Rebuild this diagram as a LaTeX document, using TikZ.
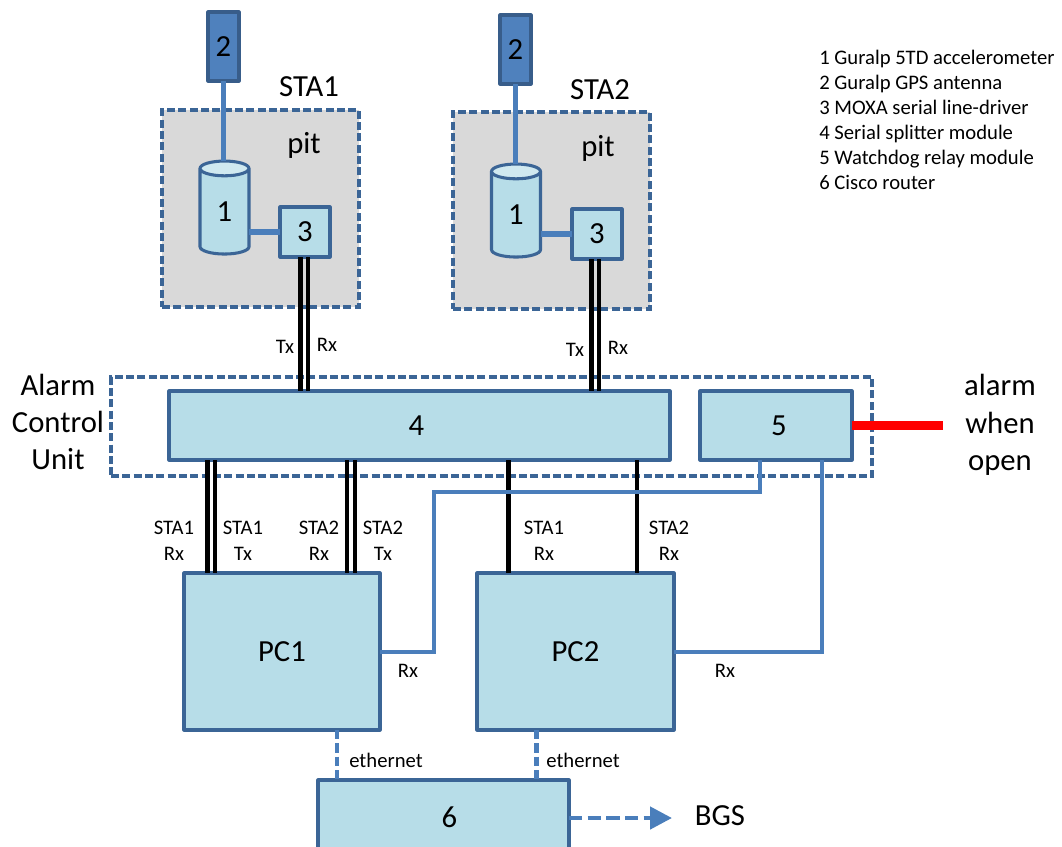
\documentclass[tikz,border=0pt]{standalone}
\usepackage{fontspec}
\setmainfont{Carlito}
\usetikzlibrary{shapes.geometric,arrows.meta}
\definecolor{boxfill}{HTML}{B7DDE8}
\definecolor{boxedge}{HTML}{3B6596}
\definecolor{wire}{HTML}{4A7EBB}
\definecolor{antfill}{HTML}{4F81BD}
\definecolor{antedge}{HTML}{385D8A}
\definecolor{pitfill}{HTML}{D9D9D9}
\tikzset{
  x=0.75pt,y=-0.75pt,
  unit/.style={draw=boxedge,fill=boxfill,line width=2.3pt,inner sep=0pt,outer sep=0pt,font=\fontsize{23}{25}\selectfont,line join=round},
  antenna/.style={draw=antedge,fill=antfill,line width=2.3pt,inner sep=0pt,outer sep=0pt,font=\fontsize{23}{25}\selectfont,minimum width=23.25pt,minimum height=51.75pt,line join=round},
  can/.style={cylinder,shape border rotate=90,aspect=0.95,cylinder uses custom fill,cylinder body fill=boxfill,cylinder end fill=boxfill!65!white,draw=boxedge,line width=2.3pt,inner sep=0pt,outer sep=0pt,font=\fontsize{23}{25}\selectfont,minimum width=36.75pt,minimum height=69.75pt},
  zone/.style={draw=boxedge,line width=2.3pt,dash pattern=on 6pt off 2.5pt,inner sep=0pt,outer sep=0pt},
  bluewire/.style={draw=wire,line width=3pt},
  thickwire/.style={draw=wire,line width=4.2pt},
  signal/.style={draw=black,line width=3.2pt},
  netwire/.style={draw=wire,line width=3.4pt,dash pattern=on 7pt off 3pt},
  big/.style={inner sep=0pt,font=\fontsize{23}{28}\selectfont},
  small/.style={inner sep=0pt,font=\fontsize{15.5}{19.5}\selectfont},
  legend/.style={inner sep=0pt,anchor=west,text height=11pt,text depth=3pt,font=\fontsize{15.5}{17}\selectfont},
}
\begin{document}
\begin{tikzpicture}
\clip (0,0) rectangle (1062,846);
% zones
\node[zone,fill=pitfill,minimum width=147.75pt,minimum height=147.75pt] (pitA) at (260.5,208.5) {};
\node[zone,fill=pitfill,minimum width=147.75pt,minimum height=147.75pt] (pitB) at (551.5,210.5) {};
\node[zone,minimum width=570.75pt,minimum height=74.25pt] (acu) at (491.5,426.5) {};
% units
\node[antenna] (antA) at (223.5,46.5) {2};
\node[antenna] (antB) at (515.5,49.5) {2};
\node[can] (canA) at (224.5,212) {1};
\node[can] (canB) at (516,215) {1};
\node[unit,minimum width=37.5pt,minimum height=37.5pt] (lineA) at (305,232) {3};
\node[unit,minimum width=37.5pt,minimum height=37.5pt] (lineB) at (597,234) {3};
\node[unit,minimum width=375.75pt,minimum height=51.75pt] (split) at (419.5,425.5) {\kern-4.5pt 4};
\node[unit,minimum width=114pt,minimum height=51.75pt] (relay) at (776,425.5) {\kern4.5pt 5};
\node[unit,minimum width=147pt,minimum height=117.75pt] (pcA) at (282,651.5) {PC1};
\node[unit,minimum width=147.75pt,minimum height=117.75pt] (pcB) at (575.5,651.5) {PC2};
\node[unit,minimum width=188.25pt,minimum height=60pt] (router) at (443.5,820) {\kern9pt\raisebox{5pt}{6}};
% free ends and taps
\coordinate (alarmEnd) at (943,425);
\coordinate (bgsEnd) at (672,818);
\coordinate (tA1) at (300.5,257);
\coordinate (tA2) at (308,257);
\coordinate (tB1) at (591.5,259);
\coordinate (tB2) at (599,259);
\coordinate (s1) at (207.5,460);
\coordinate (s2) at (215,460);
\coordinate (s3) at (347,460);
\coordinate (s4) at (355,460);
\coordinate (s5) at (508.5,460);
\coordinate (s6) at (637,460);
\coordinate (r1) at (760,460);
\coordinate (r2) at (822,460);
\coordinate (netA) at (337,730);
\coordinate (netB) at (536.5,730);
\coordinate (bend1) at (433.5,492);
% connectors
\draw[thickwire] (antA.south) -- (antA.south |- canA.north);
\draw[thickwire] (antB.south) -- (antB.south |- canB.north);
\draw[thickwire] (canA.east |- lineA.west) -- (lineA.west);
\draw[thickwire] (canB.east |- lineB.west) -- (lineB.west);
\foreach \t in {tA1,tA2,tB1,tB2}{\draw[signal] (\t) -- (\t |- split.north);}
\foreach \t in {s1,s2,s3,s4,s5,s6}{\draw[signal] (\t) -- (\t |- pcA.north);}
\draw[bluewire] (r1) |- (bend1) |- (pcA.east);
\draw[bluewire] (r2) |- (pcB.east);
\draw[draw=red,line width=6.5pt] (relay.east) -- (relay.east -| alarmEnd);
\draw[netwire] (netA) -- (netA |- router.north);
\draw[netwire] (netB) -- (netB |- router.north);
\draw[netwire,dash pattern=on 10pt off 4pt,-{Triangle[length=16.5pt,width=16.5pt]}] (router.east |- bgsEnd) -- (bgsEnd);
% labels
\node[big] (staA) at (309,87) {STA1};
\node[big] (staB) at (600,90) {STA2};
\node[big] (pitAl) at (304,145) {pit};
\node[big] (pitBl) at (598,148) {pit};
\node[big,align=center] (acuL) at (58,422) {Alarm\\Control\\Unit};
\node[big,align=center] (alarmL) at (1000,425) {alarm\\when\\open};
\node[big] (bgsL) at (720,816) {BGS};
\node[small] (l1) at (285,347) {Tx};
\node[small] (l2) at (327,345) {Rx};
\node[small] (l3) at (575,350) {Tx};
\node[small] (l4) at (618,348) {Rx};
\node[small,align=center] (l5) at (174,541) {STA1\\Rx};
\node[small,align=center] (l6) at (243,541) {STA1\\Tx};
\node[small,align=center] (l7) at (319,541) {STA2\\Rx};
\node[small,align=center] (l8) at (383,541) {STA2\\Tx};
\node[small,align=center] (l9) at (544,541) {STA1\\Rx};
\node[small,align=center] (l10) at (669,541) {STA2\\Rx};
\node[small] (l11) at (408,671) {Rx};
\node[small] (l12) at (725,671) {Rx};
\node[small] (e1) at (386,760) {ethernet};
\node[small] (e2) at (583,760) {ethernet};
\node[legend] (k1) at (819,59) {1 Guralp 5TD accelerometer};
\node[legend] (k2) at (819,84) {2 Guralp GPS antenna};
\node[legend] (k3) at (819,109) {3 MOXA serial line-driver};
\node[legend] (k4) at (819,134) {4 Serial splitter module};
\node[legend] (k5) at (819,159) {5 Watchdog relay module};
\node[legend] (k6) at (819,184) {6 Cisco router};
\end{tikzpicture}
\end{document}
